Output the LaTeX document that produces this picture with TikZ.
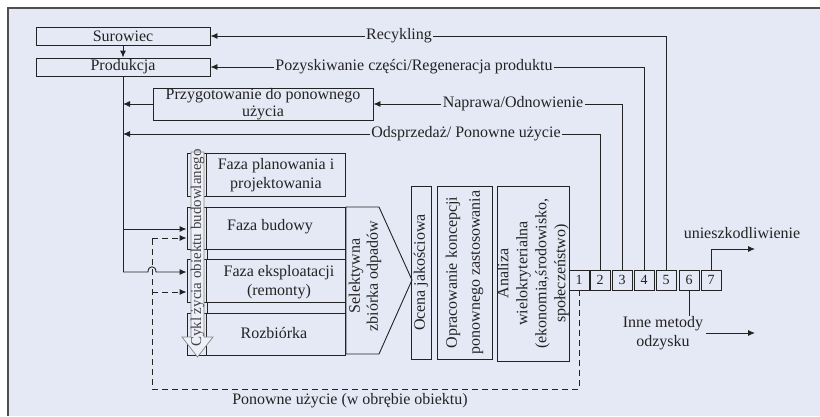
\documentclass[tikz,border=0pt]{standalone}
\usepackage{fontspec}
\setmainfont{Liberation Serif}
\usetikzlibrary{arrows.meta}
\definecolor{bg}{RGB}{229,233,245}
\definecolor{ink}{RGB}{35,35,35}
\definecolor{lcfill}{RGB}{238,240,249}
\begin{document}
\begin{tikzpicture}[x=1pt,y=-1pt,
  every node/.style={text=ink, inner sep=0pt},
  txt/.style={font=\fontsize{16}{19}\selectfont},
  box/.style={draw=ink, line width=0.9pt, rectangle, inner sep=0pt, align=center},
  lab/.style={txt, fill=bg, inner xsep=1.5pt, inner ysep=0pt, text height=11pt, text depth=3.5pt},
  conn/.style={draw=ink, line width=0.9pt},
  tip/.style={-{Latex[length=7pt,width=6pt]}},
  arr/.style={conn, tip},
  dsh/.style={conn, dash pattern=on 6pt off 4pt},
  numbox/.style={box, minimum width=20pt, minimum height=20pt, font=\fontsize{14}{14}\selectfont},
  phase/.style={box, minimum width=158pt},
]
\useasboundingbox (0,0) rectangle (820,416);
\fill[white] (0,0) rectangle (820,416);
\fill[bg] (8,8) rectangle (820,416);
\draw[ink!80, line width=1.2pt] (8,416) -- (8,8) -- (820,8);

% top boxes
\node[box, txt, minimum width=174pt, minimum height=18pt] (sur) at (123,36) {Surowiec};
\node[box, txt, minimum width=174pt, minimum height=18pt] (prod) at (123,67) {Produkcja};
\node[box, minimum width=220pt, minimum height=32pt, font=\fontsize{16}{17}\selectfont] (prz) at (263,104) {Przygotowanie do ponownego\\użycia};

% phase boxes
\node[phase, minimum height=43pt] (ph1) at (266,174.5) {};
\node[phase, minimum height=42pt] (ph2) at (266,228) {};
\node[phase, minimum height=43pt] (ph3) at (266,280.5) {};
\node[phase, minimum height=42pt] (ph4) at (266,334) {};
\foreach \p in {ph1,ph2,ph3,ph4}{
  \draw[conn] ([xshift=20pt]\p.north west) -- ([xshift=20pt]\p.south west);
}
\draw[conn] (207,249) rectangle (345,259);
\draw[conn] (207,302) rectangle (345,313);
\node[txt, align=center] (tph1) at (276,175) {Faza planowania i\\projektowania};
\node[txt] (tph2) at (270,227) {Faza budowy};
\node[txt, align=center] (tph3) at (279,282) {Faza eksploatacji\\(remonty)};
\node[txt] (tph4) at (274,333) {Rozbiórka};

% life cycle arrow
\draw[ink!55, line width=0.7pt, fill=lcfill] (191,152) -- (204,152) -- (204,337) -- (213,337) -- (197.5,357) -- (182,337) -- (191,337) -- cycle;
\node[rotate=90, font=\fontsize{15}{15}\selectfont, text=ink!85] (cyk) at (197.5,248) {Cykl życia obiektu budowlanego};

% selective collection
\draw[conn] (346,207) -- (379,207) -- (412,280) -- (379,354) -- (346,354) -- cycle;
\node[rotate=90, align=center, font=\fontsize{16}{18}\selectfont] (sel) at (365,276) {Selektywna\\zbiórka odpadów};

% vertical boxes
\node[box, txt, rotate=90, minimum width=173pt, minimum height=20pt] (oc) at (421,272.5) {Ocena jakościowa};
\node[box, rotate=90, minimum width=173pt, minimum height=55pt, font=\fontsize{16}{23}\selectfont] (op) at (464.5,272.5) {Opracowanie koncepcji\\ponownego zastosowania};
\node[box, rotate=90, minimum width=175pt, minimum height=72pt, font=\fontsize{16}{19}\selectfont] (an) at (533,273.5) {Analiza\\wielokryterialna\\(ekonomia,środowisko,\\społeczeństwo)};

% numbered boxes
\node[numbox] (n1) at (579,280) {1};
\node[numbox] (n2) at (600,280) {2};
\node[numbox] (n3) at (622,280) {3};
\node[numbox] (n4) at (644,280) {4};
\node[numbox] (n5) at (666,280) {5};
\node[numbox] (n6) at (689,280) {6};
\node[numbox] (n7) at (711,280) {7};

% connectors
\coordinate (tr) at (123,134);
\coordinate (t1) at (123,229);
\coordinate (t2) at (123,272);
\draw[arr] (sur) -- (prod);
\draw[arr] (n5.north) |- (sur.east);
\draw[arr] (n4.north) |- (prod.east);
\draw[arr] (n3.north) |- (prz.east);
\draw[arr] (n2.north) |- (tr);
\draw[arr] (prz.west) -- (prz.west -| tr);
\draw[conn] (prod.south) -- (t2);
\draw[arr] (t1) -- (ph2.west |- t1);
\draw[arr] (t2) -- (148,272) .. controls (148,265) and (156,265) .. (156,272) -- (ph3.west |- t2);

% dashed reuse loop
\coordinate (d1) at (152,389);
\coordinate (d2) at (152,238);
\coordinate (d3) at (152,292);
\draw[dsh] (n1.south) |- (d1) -- (d2);
\draw[dsh, tip] (d2) -- (ph2.west |- d2);
\draw[dsh, tip] (d3) -- (ph3.west |- d3);
\node[txt] (lpon) at (350,401) {Ponowne użycie (w obrębie obiektu)};

% labels on lines
\node[lab] (lrec) at (399,36) {Recykling};
\node[lab] (lpoz) at (414,67) {Pozyskiwanie części/Regeneracja produktu};
\node[lab] (lnap) at (513,104) {Naprawa/Odnowienie};
\node[lab] (lods) at (466,134) {Odsprzedaż/ Ponowne użycie};

% outputs
\node[txt, align=center] (inne) at (663,333) {Inne metody\\odzysku};
\draw[conn] (n6.south) -- (n6.south |- inne.north);
\coordinate (o2) at (755,333);
\draw[arr] ([xshift=3pt]inne.east) -- (o2);
\node[txt] (uni) at (742,233) {unieszkodliwienie};
\coordinate (u2) at (755,249);
\draw[arr] (n7.north) |- (u2);
\end{tikzpicture}
\end{document}
